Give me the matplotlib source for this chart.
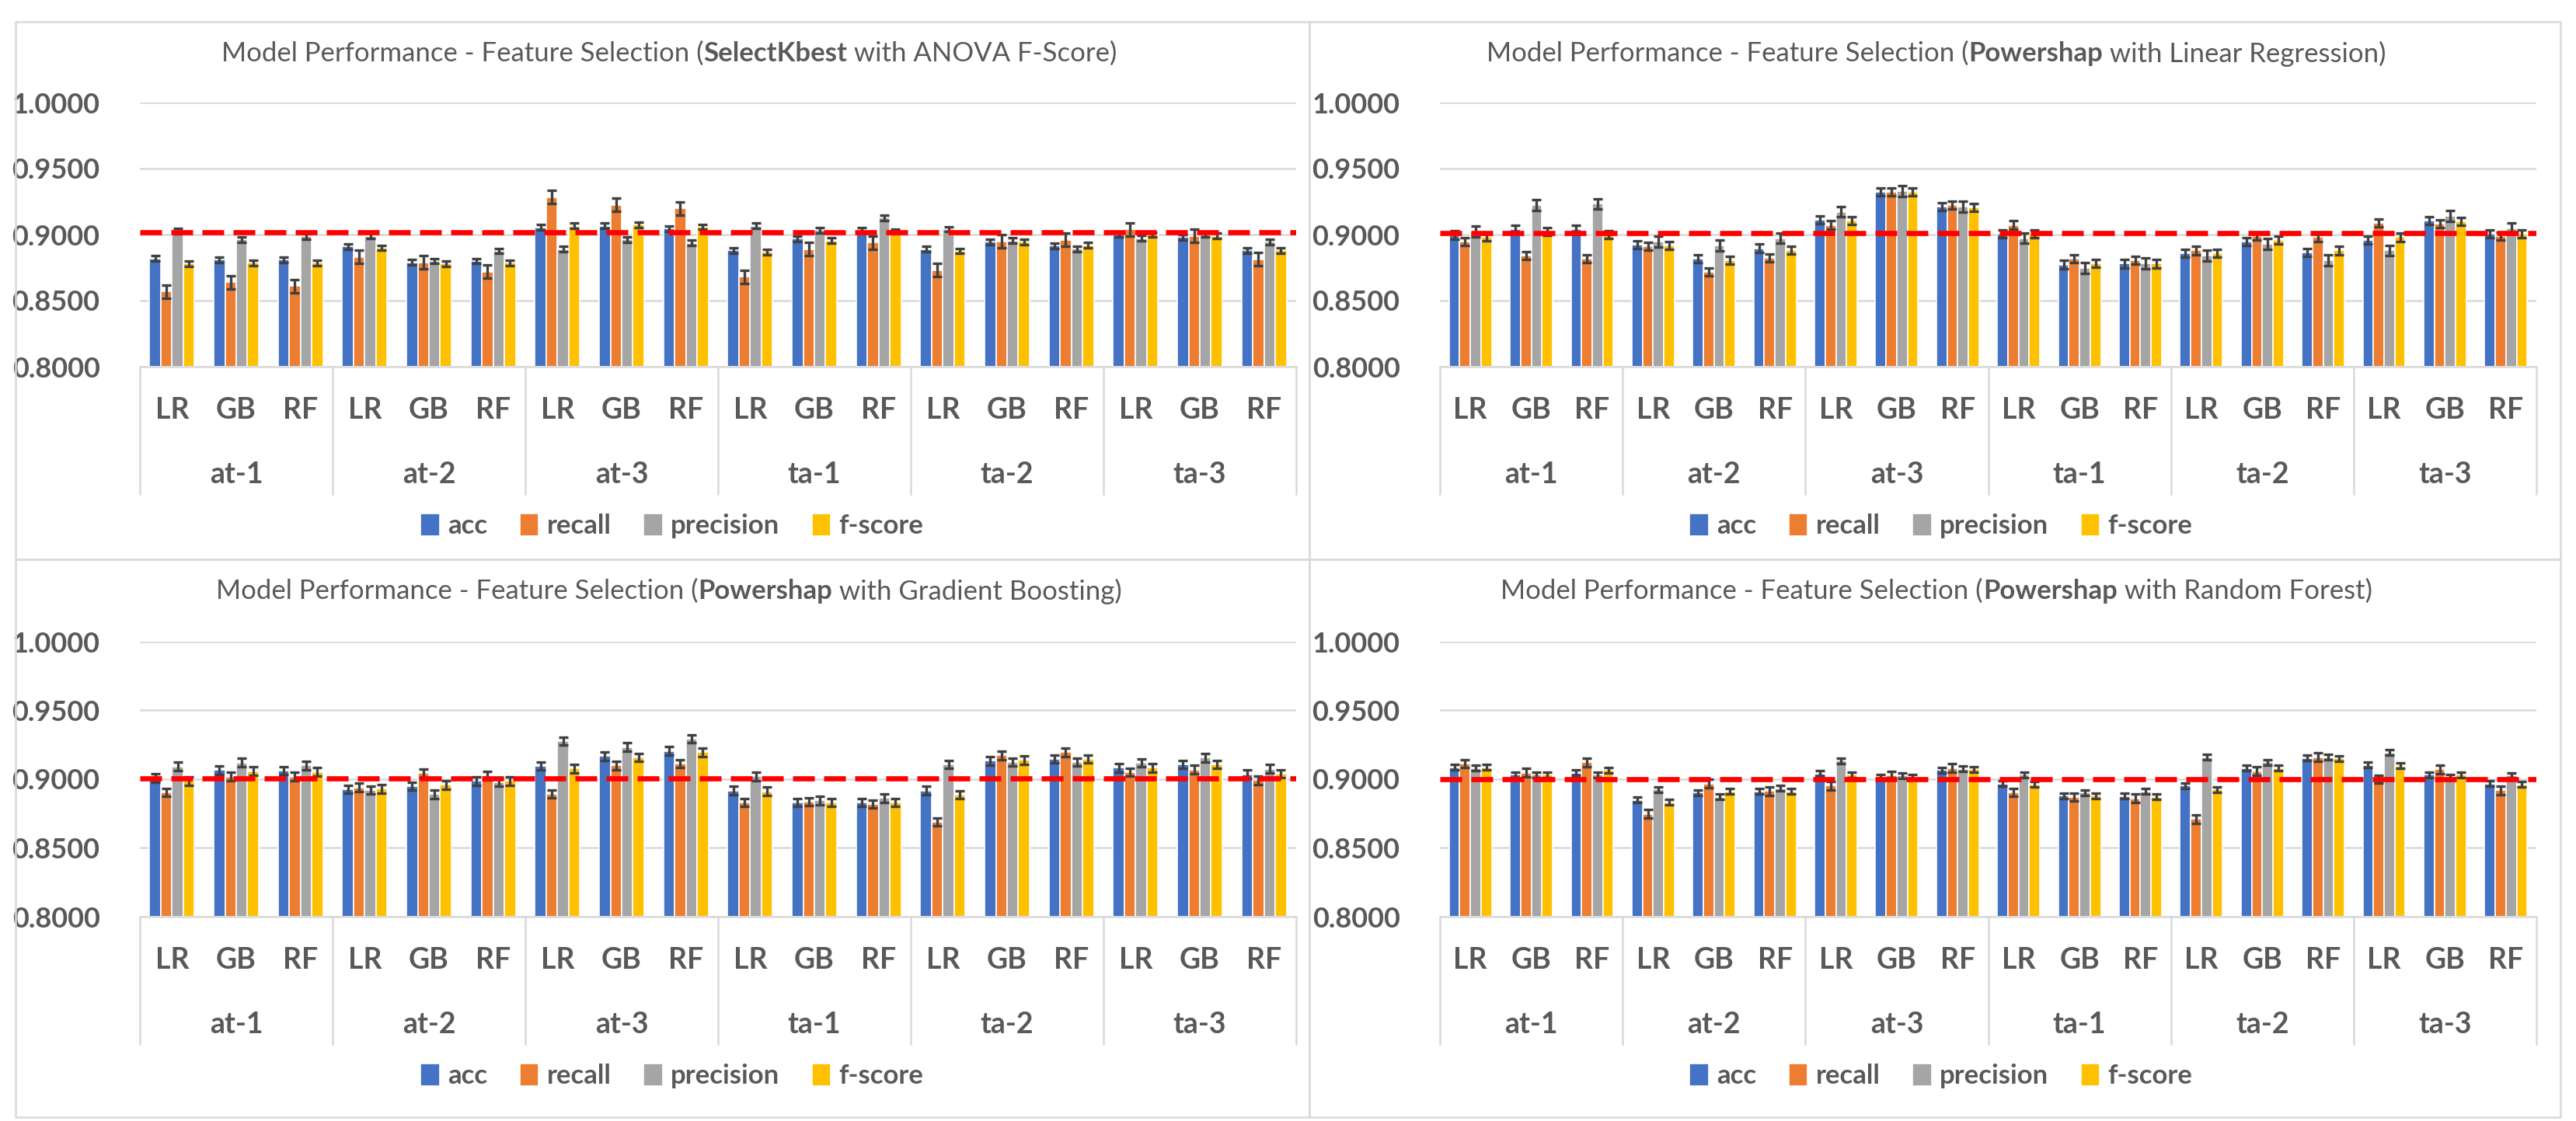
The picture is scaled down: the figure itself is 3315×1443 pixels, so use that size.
import matplotlib
matplotlib.use("Agg")
import matplotlib.pyplot as plt
from matplotlib.patches import Rectangle

plt.rcParams["font.family"] = ["Lato", "DejaVu Sans"]

groups = ["at-1", "at-2", "at-3", "ta-1", "ta-2", "ta-3"]
models = ["LR", "GB", "RF"]
metrics = ["acc", "recall", "precision", "f-score"]
colors = ["#4472C4", "#ED7D31", "#A5A5A5", "#FFC000"]
yticks = [0.80, 0.85, 0.90, 0.95, 1.00]

# --- SelectKbest with ANOVA F-Score
kbest_acc = [0.882, 0.881, 0.881, 0.891, 0.879, 0.880, 0.9055, 0.9066, 0.9045,
             0.888, 0.897, 0.9034, 0.889, 0.8945, 0.8917, 0.900, 0.898, 0.888]
kbest_recall = [0.857, 0.864, 0.861, 0.883, 0.879, 0.872, 0.9285, 0.9225, 0.920,
                0.868, 0.889, 0.894, 0.873, 0.895, 0.896, 0.904, 0.899, 0.8814]
kbest_precision = [0.9025, 0.8964, 0.8986, 0.899, 0.880, 0.8877, 0.889, 0.8964, 0.8938,
                   0.9066, 0.9034, 0.9128, 0.9041, 0.8955, 0.8893, 0.8972, 0.900, 0.8945]
kbest_fscore = [0.878, 0.8786, 0.8786, 0.890, 0.878, 0.8786, 0.9066, 0.9074, 0.9059,
                0.8869, 0.8955, 0.9024, 0.8876, 0.8945, 0.892, 0.900, 0.899, 0.888]
kbest_err = [0.002, 0.005, 0.002, 0.002]
kbest_ref = 0.902

# --- Powershap with Linear Regression
lin_acc = [0.8997, 0.904, 0.904, 0.8923, 0.8817, 0.8897, 0.9113, 0.9323, 0.9213,
           0.9007, 0.8773, 0.878, 0.8857, 0.8947, 0.8867, 0.8957, 0.9107, 0.9007]
lin_recall = [0.8947, 0.884, 0.8817, 0.8913, 0.8717, 0.8823, 0.9073, 0.9323, 0.9223,
              0.9073, 0.8817, 0.8807, 0.888, 0.899, 0.898, 0.909, 0.9083, 0.899]
lin_precision = [0.9023, 0.9223, 0.9233, 0.8947, 0.8917, 0.8973, 0.9173, 0.933, 0.9213,
                 0.8973, 0.8747, 0.8783, 0.884, 0.893, 0.8807, 0.888, 0.914, 0.905]
lin_fscore = [0.8983, 0.9023, 0.900, 0.8917, 0.8807, 0.8883, 0.9107, 0.9323, 0.9207,
              0.9007, 0.8783, 0.878, 0.8857, 0.8957, 0.888, 0.898, 0.910, 0.9007]
lin_err = [0.003, 0.003, 0.004, 0.003]
lin_ref = 0.901

# --- Powershap with Gradient Boosting
gb_acc = [0.901, 0.9065, 0.9062, 0.8927, 0.895, 0.8987, 0.9095, 0.9168, 0.9206,
          0.8918, 0.883, 0.883, 0.8918, 0.9134, 0.9147, 0.9082, 0.9108, 0.9036]
gb_recall = [0.8903, 0.9019, 0.9019, 0.894, 0.9043, 0.9024, 0.8893, 0.9099, 0.9114,
             0.883, 0.8837, 0.882, 0.869, 0.9173, 0.9196, 0.905, 0.9069, 0.8993]
gb_precision = [0.9093, 0.9121, 0.9099, 0.8921, 0.889, 0.8978, 0.9277, 0.9234, 0.9294,
                0.902, 0.8846, 0.8863, 0.9108, 0.9124, 0.9124, 0.9118, 0.9157, 0.9075]
gb_fscore = [0.8987, 0.9058, 0.9052, 0.8931, 0.8959, 0.8987, 0.9077, 0.9159, 0.9196,
             0.8912, 0.883, 0.883, 0.8886, 0.914, 0.9147, 0.9082, 0.9108, 0.904]
gb_err = [0.003, 0.003, 0.003, 0.003]
gb_ref = 0.9005

# --- Powershap with Random Forest
rf_acc = [0.9087, 0.9032, 0.9048, 0.8848, 0.8903, 0.891, 0.9042, 0.9016, 0.9065,
          0.8968, 0.8881, 0.8877, 0.8952, 0.9081, 0.9155, 0.9103, 0.9032, 0.8968]
rf_recall = [0.9113, 0.9048, 0.9123, 0.8748, 0.8968, 0.8913, 0.8952, 0.9026, 0.9081,
             0.8903, 0.8871, 0.8861, 0.871, 0.9058, 0.9161, 0.900, 0.9071, 0.8919]
rf_precision = [0.9081, 0.9032, 0.9032, 0.8926, 0.8871, 0.8935, 0.9135, 0.9026, 0.9074,
                0.9032, 0.8903, 0.891, 0.9161, 0.9123, 0.9161, 0.9194, 0.9016, 0.9026]
rf_fscore = [0.9087, 0.9032, 0.9065, 0.8832, 0.891, 0.891, 0.9032, 0.9016, 0.9071,
             0.8961, 0.8881, 0.8871, 0.8926, 0.9081, 0.9152, 0.9097, 0.9032, 0.8961]
rf_err = [0.002, 0.003, 0.002, 0.002]
rf_ref = 0.900

W, H = 3315, 1443
TEXT = "#595959"
GRID = "#D9D9D9"

fig = plt.figure(figsize=(W / 100, H / 100), dpi=100)


def fx(px):
    return px / W


def fy(py):
    return 1 - py / H


def title_pieces(pieces, cx, cy):
    # mixed normal / bold title, centred at (cx, cy) in pixels
    r = fig.canvas.get_renderer()
    texts = []
    for s, w in pieces:
        t = fig.text(0, fy(cy), s, fontsize=25, color=TEXT, weight=w, va="center")
        texts.append(t)
    widths = [t.get_window_extent(r).width for t in texts]
    x = cx - sum(widths) / 2
    for t, w in zip(texts, widths):
        t.set_x(fx(x))
        x += w


def panel(frame, left, right, top, bottom, series, errs, ref, pieces, title_x, legend_x):
    # frame = (x0, y0, x1, y1) in pixels, left/right/top/bottom = plot area in pixels
    x0, y0, x1, y1 = frame
    fig.patches.append(Rectangle((fx(x0), fy(y1)), fx(x1 - x0), (y1 - y0) / H,
                                 transform=fig.transFigure, fill=False,
                                 edgecolor=GRID, linewidth=1.8))
    ax = fig.add_axes([fx(left), fy(bottom), fx(right - left), (bottom - top) / H])
    hpx = bottom - top

    xs = list(range(len(groups) * len(models)))
    bw = 0.175
    for k, vals in enumerate(series):
        pos = [x + (k - 1.5) * bw for x in xs]
        ax.bar(pos, [v - 0.8 for v in vals], bw, bottom=0.8, color=colors[k],
               edgecolor="white", linewidth=1.2, label=metrics[k], zorder=2)
        ax.errorbar(pos, vals, yerr=errs[k], fmt="none", ecolor="#404040",
                    elinewidth=2.4, capsize=4, capthick=2.4, zorder=3)

    ax.axhline(ref, color="#FF0000", linewidth=4.8, dashes=(4.2, 1.8), zorder=4)

    ax.set_ylim(0.8, 1.0)
    ax.set_xlim(-0.5, len(xs) - 0.5)
    ax.set_yticks(yticks)
    ax.set_yticklabels(["%.4f" % t for t in yticks], fontsize=26, weight="bold", color=TEXT)
    ax.tick_params(axis="y", length=0, pad=37)
    ax.set_xticks([])
    ax.grid(axis="y", color=GRID, linewidth=1.8, zorder=0)
    ax.set_axisbelow(True)
    for s in ["top", "right", "left"]:
        ax.spines[s].set_visible(False)
    ax.spines["bottom"].set_color(GRID)
    ax.spines["bottom"].set_linewidth(1.8)

    tr = ax.get_xaxis_transform()
    for x in xs:
        ax.annotate(models[x % 3], xy=(x, 0), xycoords=tr, xytext=(0, -56),
                    textcoords="offset pixels", ha="center", va="center",
                    fontsize=27, weight="bold", color=TEXT)
    for g, name in enumerate(groups):
        ax.annotate(name, xy=(g * 3 + 1, 0), xycoords=tr, xytext=(0, -139),
                    textcoords="offset pixels", ha="center", va="center",
                    fontsize=27, weight="bold", color=TEXT)
    for g in range(len(groups) + 1):
        ax.plot([g * 3 - 0.5, g * 3 - 0.5], [0, -164 / hpx], transform=tr,
                color=GRID, linewidth=1.8, clip_on=False)

    handles, labels = ax.get_legend_handles_labels()
    fig.legend(handles, labels, loc="center",
               bbox_to_anchor=(fx(legend_x), fy(bottom + 205)),
               ncol=4, frameon=False, prop={"size": 25, "weight": "bold"},
               labelcolor=TEXT, handlelength=0.7, handleheight=0.9,
               handletextpad=0.3, columnspacing=1.2)

    title_pieces(pieces, title_x, y0 + 41)
    return ax


fig.canvas.draw()

panel((20, 28, 1685, 720), 180, 1668, 132, 472,
      [kbest_acc, kbest_recall, kbest_precision, kbest_fscore], kbest_err, kbest_ref,
      [("Model Performance - Feature Selection (", "normal"), ("SelectKbest", "bold"),
       (" with ANOVA F-Score)", "normal")], 861, 865)
panel((1685, 28, 3295, 720), 1853, 3264, 132, 472,
      [lin_acc, lin_recall, lin_precision, lin_fscore], lin_err, lin_ref,
      [("Model Performance - Feature Selection (", "normal"), ("Powershap", "bold"),
       (" with Linear Regression)", "normal")], 2492, 2498)
panel((20, 720, 1685, 1438), 180, 1668, 826, 1180,
      [gb_acc, gb_recall, gb_precision, gb_fscore], gb_err, gb_ref,
      [("Model Performance - Feature Selection (", "normal"), ("Powershap", "bold"),
       (" with Gradient Boosting)", "normal")], 861, 865)
panel((1685, 720, 3295, 1438), 1853, 3264, 826, 1180,
      [rf_acc, rf_recall, rf_precision, rf_fscore], rf_err, rf_ref,
      [("Model Performance - Feature Selection (", "normal"), ("Powershap", "bold"),
       (" with Random Forest)", "normal")], 2492, 2498)

fig.savefig("out.png", dpi=100, facecolor="white")
